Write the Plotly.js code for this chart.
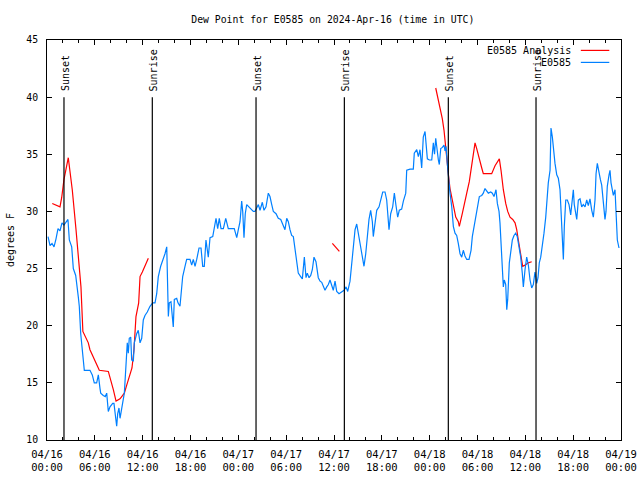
<!DOCTYPE html>
<html>
<head>
<meta charset="utf-8">
<script src="https://cdn.plot.ly/plotly-3.0.1.min.js"></script>
<style>html,body{margin:0;padding:0;background:#fff;}#chart{width:640px;height:480px;}</style>
</head>
<body>
<div id="chart"></div>
<script>
// ---- data (hours after 2024-04-16 00:00 UTC, dew point in degrees F) ----
const obsHours = [0.13,0.38,0.63,0.88,1.13,1.38,1.63,1.88,2.13,2.38,2.63,2.80,3.10,3.30,3.60,3.93,4.05,4.23,4.48,4.68,4.98,5.39,5.68,5.93,6.23,6.44,6.65,6.74,7.06,7.31,7.49,7.61,7.69,7.90,8.24,8.40,8.57,8.74,8.87,9.03,9.16,9.37,9.50,9.70,9.87,9.95,10.07,10.20,10.32,10.50,10.62,10.83,10.95,11.25,11.45,11.67,11.88,12.08,12.29,12.58,12.92,13.26,13.55,13.76,13.96,14.26,14.59,14.80,15.02,15.14,15.22,15.34,15.55,15.84,15.97,16.27,16.43,16.68,16.90,17.02,17.31,17.52,17.94,18.15,18.35,18.57,18.78,19.07,19.32,19.53,19.73,19.94,20.23,20.45,20.79,20.95,21.20,21.41,21.61,21.83,22.12,22.42,22.74,23.49,23.80,24.00,24.21,24.42,24.55,24.71,24.87,25.05,25.46,25.88,26.09,26.31,26.51,26.72,27.01,27.22,27.47,27.76,27.97,28.19,28.39,28.73,29.01,29.32,29.64,29.85,30.07,30.27,30.48,30.69,30.90,31.11,31.23,31.52,31.82,32.03,32.28,32.49,32.65,32.87,33.08,33.28,33.49,33.74,34.03,34.25,34.46,34.66,34.87,35.09,35.29,35.50,35.71,35.91,36.13,36.34,36.63,36.97,37.26,37.51,37.72,38.01,38.22,38.42,38.64,38.85,39.05,39.26,39.55,39.76,39.98,40.18,40.39,40.60,40.81,40.93,41.14,41.36,41.65,41.86,42.11,42.40,42.61,42.90,43.11,43.36,43.57,43.78,43.99,44.19,44.49,44.70,45.00,45.12,45.54,45.95,46.07,46.38,46.58,46.79,47.00,47.20,47.42,47.54,47.71,47.96,48.26,48.46,48.61,48.76,48.88,49.09,49.21,49.39,49.59,49.80,49.93,50.05,50.21,50.34,50.55,50.77,50.97,51.18,51.39,51.59,51.81,52.02,52.22,52.43,52.65,52.94,53.19,53.35,53.69,53.90,54.23,54.53,54.73,54.94,55.16,55.36,55.66,55.86,56.07,56.32,56.49,56.70,56.82,56.95,57.16,57.24,57.36,57.54,57.67,57.79,57.99,58.17,58.37,58.58,58.79,58.99,59.21,59.42,59.62,59.75,59.96,60.17,60.38,60.59,60.80,61.00,61.21,61.43,61.59,61.75,61.93,62.13,62.34,62.56,62.68,62.88,63.10,63.22,63.39,63.51,63.72,63.94,64.14,64.35,64.56,64.69,64.77,64.89,65.07,65.27,65.48,65.69,65.89,66.02,66.14,66.32,66.45,66.65,66.86,67.07,67.27,67.49,67.70,67.90,68.11,68.33,68.53,68.74,68.87,69.03,69.24,69.41,69.58,69.78,69.99,70.12,70.28,70.50,70.62,70.75,70.91,71.04,71.25,71.38,71.54,71.75];
const obsDew = [27.8,27.0,27.2,26.9,27.6,28.5,28.3,29.0,28.8,29.0,29.3,27.5,26.9,25.0,24.4,22.5,21.7,19.3,17.3,16.1,16.1,16.1,15.7,15.0,15.0,15.7,14.5,14.1,13.9,13.8,14.1,13.1,12.5,12.9,13.2,13.2,11.9,11.2,12.3,12.8,11.9,12.8,13.2,14.1,16.1,17.1,18.5,17.6,18.9,19.0,17.0,16.9,18.5,19.3,19.6,18.5,18.9,20.5,20.9,21.2,21.7,22.0,22.0,22.8,24.3,25.2,25.8,26.3,26.9,24.3,20.8,22.0,22.1,19.9,22.3,22.4,22.0,21.7,23.1,24.3,25.2,25.8,25.8,25.3,25.8,25.2,25.8,26.8,26.8,25.2,25.2,27.5,26.0,27.7,27.8,28.4,29.4,28.5,29.4,28.5,28.5,29.4,28.5,28.5,27.7,28.4,29.1,30.9,30.0,27.7,29.8,30.6,30.3,30.0,30.0,30.4,30.6,30.1,30.8,30.1,30.4,31.6,31.3,30.6,30.0,29.8,29.4,29.3,28.7,28.4,29.4,29.1,28.4,27.9,27.8,26.8,25.8,24.6,24.3,24.1,26.0,24.2,24.6,24.2,24.4,24.9,26.0,25.6,24.2,23.9,23.8,23.4,23.1,23.4,23.6,24.0,23.4,23.1,23.9,23.0,22.8,23.0,23.1,23.4,23.0,23.9,25.3,26.9,28.4,28.9,28.1,27.1,25.8,25.2,26.3,28.1,29.3,30.1,29.1,27.8,28.8,30.1,30.4,31.0,31.7,31.7,31.0,28.4,29.8,30.4,31.6,30.5,29.5,30.1,30.2,30.9,31.6,33.6,33.7,33.7,35.1,35.4,34.8,35.4,33.8,36.5,37.0,36.0,34.6,34.5,34.5,36.0,35.0,36.4,35.5,34.5,34.1,35.5,35.6,35.8,35.3,35.7,34.2,33.0,31.6,30.4,28.7,28.1,27.9,27.2,26.3,26.0,26.6,26.1,25.8,25.8,26.6,27.8,29.3,30.0,31.3,31.4,31.6,32.0,31.8,31.6,31.7,31.6,31.3,31.9,30.7,30.0,29.0,27.2,24.6,23.4,24.0,23.6,21.4,22.3,25.5,26.6,27.5,27.9,28.1,27.8,26.9,26.0,24.6,23.4,24.9,26.0,25.3,24.0,23.3,23.6,24.7,23.7,24.2,25.5,26.0,26.9,28.1,29.5,31.0,32.5,33.6,37.3,36.5,35.4,34.2,33.2,32.9,31.9,28.7,26.9,25.8,28.7,31.0,31.0,30.6,29.7,31.0,31.9,30.6,30.0,29.3,31.0,31.1,30.4,30.6,30.4,31.0,30.5,31.1,30.1,29.5,31.0,33.3,34.2,33.3,32.8,32.3,30.7,29.3,30.0,32.2,33.2,33.6,32.5,31.6,31.4,31.9,29.3,27.5,26.8];

// analysis series (null = gap)
const anaHours = [0.66,1.63,1.84,2.13,2.67,3.17,3.64,4.05,4.26,4.50,5.18,5.39,5.81,6.23,6.56,7.69,7.90,8.32,8.66,9.16,9.49,9.70,10.00,10.32,10.66,10.91,11.16,11.50,11.67,11.96,12.29,12.71,
  null,35.79,36.67,
  null,48.76,49.09,49.39,49.59,49.80,49.93,50.34,50.55,50.77,50.97,51.27,51.59,51.72,52.09,52.34,52.65,52.97,53.27,53.56,53.69,53.90,54.19,54.53,54.73,55.78,56.20,56.74,56.95,57.24,57.54,57.79,58.08,58.42,58.71,58.92,59.12,59.33,59.54,59.67,59.96,60.37,60.80];
const anaDew = [30.7,30.4,31.2,32.8,34.7,31.9,28.4,24.6,23.4,19.5,18.5,17.9,17.3,16.7,16.1,16.0,15.5,14.4,13.4,13.6,13.9,14.1,14.8,15.5,16.3,17.9,20.8,22.0,24.3,24.7,25.3,25.9,
  null,27.2,26.5,
  null,40.8,39.8,38.9,38.1,37.1,36.0,33.3,32.0,31.2,30.3,29.5,29.1,28.7,29.8,30.7,31.6,32.6,34.2,35.4,36.0,35.5,34.6,33.8,33.3,33.3,34.0,34.6,33.6,31.9,30.7,30.0,29.5,29.3,29.0,28.4,27.5,26.6,25.9,25.2,25.3,25.5,25.6];

const sunHours = [2.13, 13.21, 26.22, 37.30, 50.34, 61.34];
const sunLabels = ['Sunset','Sunrise','Sunset','Sunrise','Sunset','Sunrise'];
const seriesNames = ['E0585 Analysis', 'E0585'];
const seriesColors = ['#ff0000', '#0080ff'];
const titleText = 'Dew Point for E0585 on 2024-Apr-16 (time in UTC)';
const yTitle = 'degrees F';

// ---- helpers ----
const T0 = Date.UTC(2024, 3, 16);
function toDate(h) {
  if (h === null) return null;
  const d = new Date(T0 + Math.round(h * 3600000));
  return d.toISOString().slice(0, 19).replace('T', ' ');
}
const FONT = 'DejaVu Sans Mono, Liberation Mono, monospace';

const traces = [
  {x: anaHours.map(toDate), y: anaDew, type: 'scatter', mode: 'lines', name: seriesNames[0],
   line: {color: seriesColors[0], width: 1.2}, connectgaps: false, showlegend: false},
  {x: obsHours.map(toDate), y: obsDew, type: 'scatter', mode: 'lines', name: seriesNames[1],
   line: {color: seriesColors[1], width: 1.2}, showlegend: false}
];

const shapes = sunHours.map(h => ({
  type: 'line', xref: 'x', yref: 'y', x0: toDate(h), x1: toDate(h), y0: 10, y1: 40,
  line: {color: '#000', width: 1.2}
}));
const annotations = sunHours.map((h, i) => ({
  x: toDate(h), y: 40.35, xref: 'x', yref: 'y', text: sunLabels[i], textangle: -90,
  showarrow: false, xanchor: 'center', yanchor: 'bottom', xshift: 1,
  font: {family: FONT, size: 10, color: '#000'}
}));
// legend (text left of the sample line, gnuplot style)
const legY = [0.974, 0.944];
seriesNames.forEach((n, i) => {
  annotations.push({x: 0.9164, y: legY[i], xref: 'paper', yref: 'paper', text: n, showarrow: false,
    xanchor: 'right', yanchor: 'middle', font: {family: FONT, size: 10, color: '#000'}});
  shapes.push({type: 'line', xref: 'paper', yref: 'paper', x0: 0.930, x1: 0.9796, y0: legY[i], y1: legY[i],
    line: {color: seriesColors[i], width: 1.2}});
});

const layout = {
  width: 640, height: 480,
  margin: {l: 47, r: 19, t: 40, b: 40, pad: 0},
  paper_bgcolor: '#fff', plot_bgcolor: '#fff',
  showlegend: false,
  title: {text: titleText, x: 0.52, xanchor: 'center', y: 0.96, yanchor: 'middle',
          font: {family: FONT, size: 9.8, color: '#000'}},
  font: {family: FONT, size: 10, color: '#000'},
  xaxis: {
    type: 'date', range: [toDate(0), toDate(72)], autorange: false,
    tick0: toDate(0), dtick: 21600000, tickformat: '%m/%d<br>%H:%M',
    ticks: 'inside', ticklen: 5, tickcolor: '#000', tickwidth: 1,
    minor: {dtick: 7200000, tick0: toDate(0), ticks: 'inside', ticklen: 3, tickcolor: '#000', tickwidth: 1},
    showline: true, linecolor: '#000', linewidth: 1, mirror: 'allticks',
    showgrid: false, zeroline: false, ticklabelstandoff: 4,
    tickfont: {family: FONT, size: 10.5, color: '#000'}
  },
  yaxis: {
    range: [10, 45], autorange: false, dtick: 5, tick0: 10,
    ticks: 'inside', ticklen: 5, tickcolor: '#000', tickwidth: 1,
    showline: true, linecolor: '#000', linewidth: 1, mirror: 'allticks',
    showgrid: false, zeroline: false, ticklabelstandoff: 6,
    tickfont: {family: FONT, size: 9.8, color: '#000'},
    title: {text: yTitle, font: {family: FONT, size: 10, color: '#000'}, standoff: 9}
  },
  shapes: shapes,
  annotations: annotations
};

Plotly.newPlot('chart', traces, layout, {displayModeBar: false, staticPlot: true});
</script>
</body>
</html>
